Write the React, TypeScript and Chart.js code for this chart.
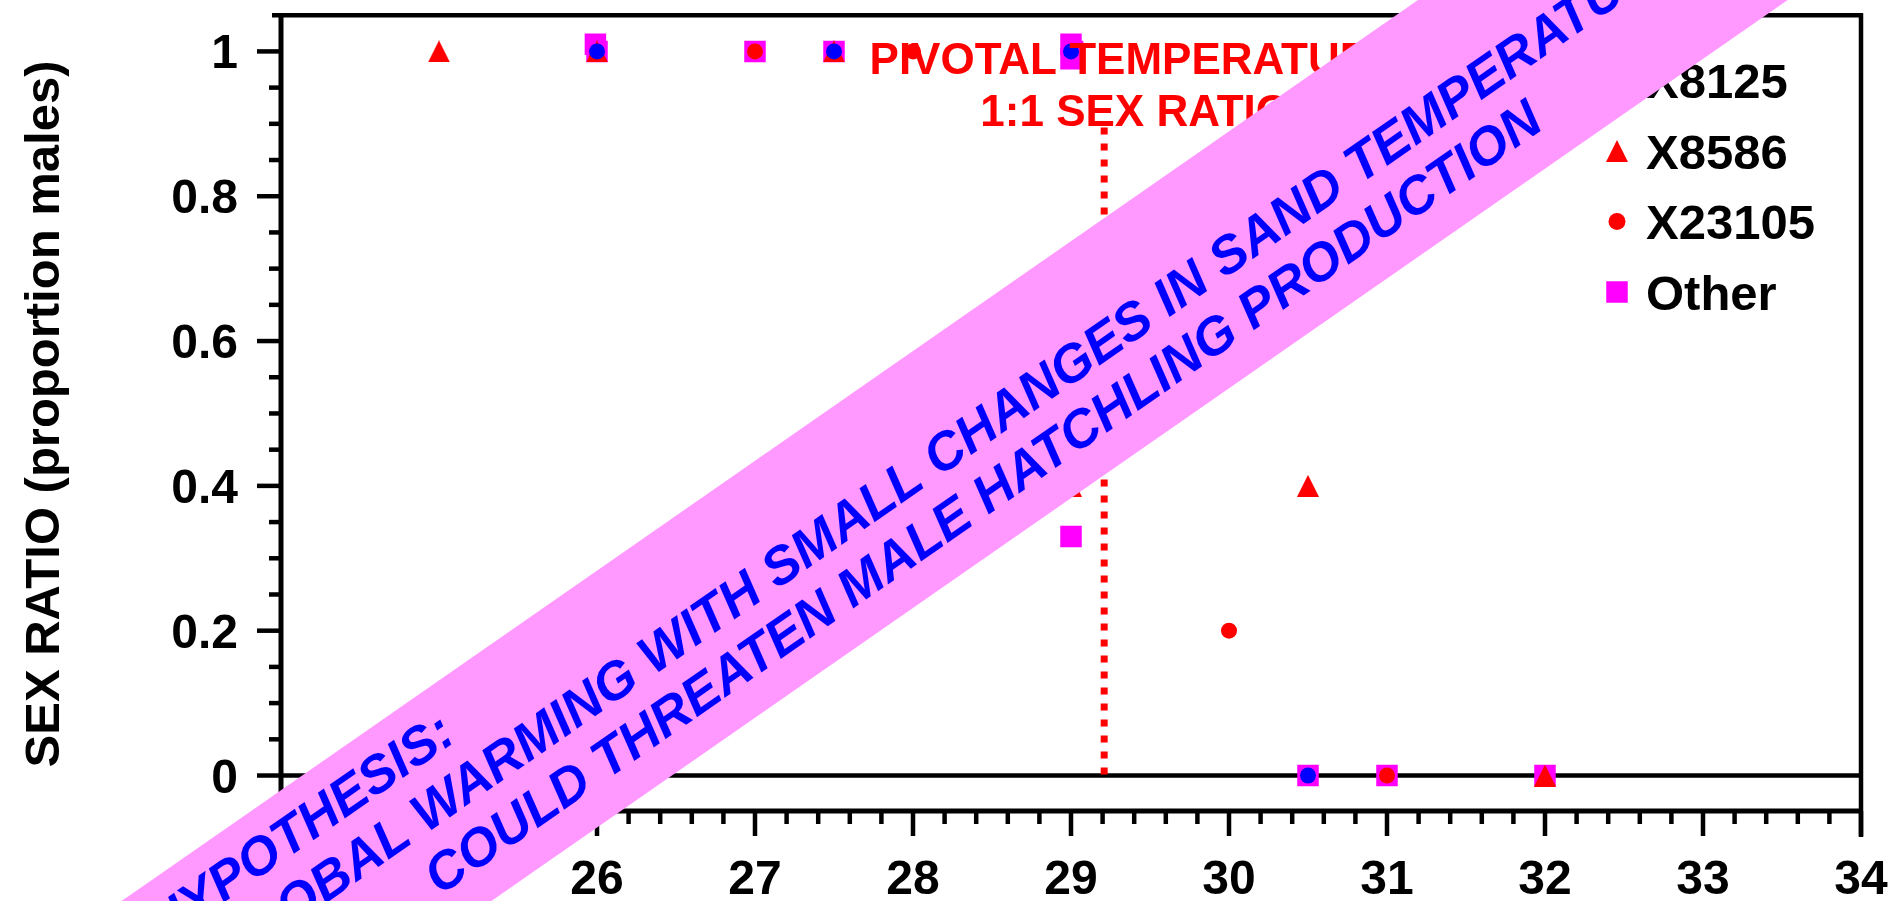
import React, { useEffect, useRef } from 'react';
import { Chart, registerables } from 'chart.js';

Chart.register(...registerables);

// ---------------- data ----------------
const seriesNames = ['X8125', 'X8586', 'X23105', 'Other'];

const x8125Temp = [26, 27.5, 29, 30.5];
const x8125Ratio = [1, 1, 1, 0];

const x8586Temp = [25, 26, 27.5, 29, 30.5, 32];
const x8586Ratio = [1, 1, 1, 0.4, 0.4, 0];

const x23105Temp = [27, 28, 30, 31];
const x23105Ratio = [1, 1, 0.2, 0];

const otherTemp = [25.99, 26, 27, 27.5, 29, 29.01, 29, 29, 30.5, 31, 32];
const otherRatio = [1.01, 1, 1, 1, 1.01, 1, 0.99, 0.33, 0, 0, 0];

const pivotalTemp = [29.21, 29.21];
const pivotalRatio = [0.895, 0];

const xTickValues = [24, 25, 26, 27, 28, 29, 30, 31, 32, 33, 34];
const xTickLabels = ['24', '25', '26', '27', '28', '29', '30', '31', '32', '33', '34'];
const yTickValues = [0, 0.2, 0.4, 0.6, 0.8, 1];
const yTickLabels = ['0', '0.2', '0.4', '0.6', '0.8', '1'];

const yAxisTitle = 'SEX RATIO (proportion males)';
const pivotalText = ['PIVOTAL TEMPERATURE', '1:1 SEX RATIO'];
const hypothesisText = [
  'HYPOTHESIS:',
  'GLOBAL WARMING WITH SMALL CHANGES IN SAND TEMPERATURE',
  'COULD THREATEN MALE HATCHLING PRODUCTION',
];

// ---------------- styling ----------------
const FONT = "'Liberation Sans', Arial, Helvetica, sans-serif";
const RED = '#ff0000';
const BLUE = '#0000ff';
const MAGENTA = '#ff00ff';
const PINK = '#ff99ff';

const toPoints = (xs: number[], ys: number[]) => xs.map((x, i) => ({ x, y: ys[i] }));

function makeTriangle(w: number, h: number, color: string) {
  const c = document.createElement('canvas');
  c.width = w;
  c.height = h;
  const g = c.getContext('2d')!;
  g.fillStyle = color;
  g.beginPath();
  g.moveTo(w / 2, 0);
  g.lineTo(w, h);
  g.lineTo(0, h);
  g.closePath();
  g.fill();
  return c;
}

function drawLegendMarker(ctx: CanvasRenderingContext2D, kind: string, cx: number, cy: number, color: string) {
  ctx.fillStyle = color;
  ctx.beginPath();
  if (kind === 'circle') {
    ctx.arc(cx, cy, 8.5, 0, Math.PI * 2);
  } else if (kind === 'triangle') {
    ctx.moveTo(cx, cy - 11);
    ctx.lineTo(cx + 11, cy + 11);
    ctx.lineTo(cx - 11, cy + 11);
    ctx.closePath();
  } else {
    ctx.rect(cx - 10.75, cy - 10.75, 21.5, 21.5);
  }
  ctx.fill();
}

const axesPlugin = {
  id: 'customAxes',
  beforeDatasetsDraw(chart: any) {
    const { ctx } = chart;
    const xs = chart.scales.x;
    const ys = chart.scales.y;
    const left = xs.getPixelForValue(xTickValues[0]);
    const right = xs.getPixelForValue(xTickValues[xTickValues.length - 1]);
    const top = chart.chartArea.top;
    const bottom = chart.chartArea.bottom;
    const line = (x1: number, y1: number, x2: number, y2: number) => {
      ctx.beginPath();
      ctx.moveTo(x1, y1);
      ctx.lineTo(x2, y2);
      ctx.stroke();
    };
    ctx.save();
    ctx.strokeStyle = '#000';
    ctx.lineCap = 'butt';

    // top frame and right frame
    ctx.lineWidth = 4.5;
    line(left - 9, top, right + 2, top);
    line(right, top - 2, right, bottom + 26);

    // y axis line
    ctx.lineWidth = 5;
    line(left, top - 2, left, bottom);

    // zero line
    ctx.lineWidth = 4.5;
    const y0 = ys.getPixelForValue(0);
    line(left, y0, right, y0);

    // bottom x axis line
    ctx.lineWidth = 5;
    line(left, bottom, right + 2, bottom);

    // y ticks (major every 0.2, minor every 0.05)
    ctx.lineWidth = 4.5;
    for (let i = 0; i <= 20; i++) {
      const v = i * 0.05;
      const py = ys.getPixelForValue(v);
      const major = i % 4 === 0;
      line(left - (major ? 24 : 12), py, left, py);
    }
    // x ticks (major every 1, minor every 0.2)
    for (let i = 0; i <= 50; i++) {
      const v = xTickValues[0] + i * 0.2;
      const px = xs.getPixelForValue(v);
      const major = i % 5 === 0;
      line(px, bottom, px, bottom + (major ? 25 : 13));
    }

    // tick labels
    ctx.fillStyle = '#000';
    ctx.font = `bold 48px ${FONT}`;
    ctx.textBaseline = 'alphabetic';
    ctx.textAlign = 'right';
    yTickValues.forEach((v, i) => {
      const py = ys.getPixelForValue(v);
      ctx.fillText(yTickLabels[i], left - 43, py + 17);
    });
    ctx.textAlign = 'center';
    xTickValues.forEach((v, i) => {
      const px = xs.getPixelForValue(v);
      ctx.fillText(xTickLabels[i], px, 894);
    });

    // y title
    ctx.save();
    ctx.translate(45, 414);
    ctx.rotate(-Math.PI / 2);
    ctx.font = `bold 49px ${FONT}`;
    ctx.textAlign = 'center';
    ctx.textBaseline = 'middle';
    ctx.fillText(yAxisTitle, 0, 0);
    ctx.restore();

    ctx.restore();
  },
  afterDatasetsDraw(chart: any) {
    const { ctx } = chart;
    const xs = chart.scales.x;
    ctx.save();
    // pivotal temperature label
    ctx.fillStyle = RED;
    ctx.font = `bold 44px ${FONT}`;
    ctx.textAlign = 'center';
    ctx.textBaseline = 'alphabetic';
    const cx = xs.getPixelForValue(pivotalTemp[0]) + 31;
    ctx.fillText(pivotalText[0], cx, 74);
    ctx.fillText(pivotalText[1], cx, 126);

    // legend
    const kinds = ['circle', 'triangle', 'circle', 'rect'];
    const colors = [BLUE, RED, RED, MAGENTA];
    ctx.font = `bold 49px ${FONT}`;
    ctx.textAlign = 'left';
    seriesNames.forEach((name, i) => {
      const cy = 80.5 + i * 70.5;
      drawLegendMarker(ctx, kinds[i], 1617, cy, colors[i]);
      ctx.fillStyle = '#000';
      ctx.fillText(name, 1646, cy + 17.5);
    });
    ctx.restore();
  },
  afterDraw(chart: any) {
    const { ctx } = chart;
    ctx.save();
    ctx.translate(900, 488.5);
    ctx.rotate((-34.8 * Math.PI) / 180);
    ctx.fillStyle = PINK;
    ctx.fillRect(-2600, -105.5, 5200, 211);
    ctx.fillStyle = BLUE;
    ctx.font = `italic bold 53px ${FONT}`;
    ctx.textBaseline = 'alphabetic';
    ctx.textAlign = 'left';
    ctx.fillText(hypothesisText[0], -866, -46);
    ctx.textAlign = 'center';
    ctx.fillText(hypothesisText[1], 63, 13);
    ctx.fillText(hypothesisText[2], 63, 72);
    ctx.restore();
  },
};

export default function App() {
  const ref = useRef<HTMLCanvasElement | null>(null);

  useEffect(() => {
    if (!ref.current) return;
    const tri = makeTriangle(22, 22, RED);
    const chart = new Chart(ref.current, {
      type: 'scatter',
      data: {
        datasets: [
          {
            label: seriesNames[0],
            data: toPoints(x8125Temp, x8125Ratio),
            pointStyle: 'circle',
            pointRadius: 8,
            backgroundColor: BLUE,
            borderWidth: 0,
          },
          {
            label: seriesNames[2],
            data: toPoints(x23105Temp, x23105Ratio),
            pointStyle: 'circle',
            pointRadius: 8,
            backgroundColor: RED,
            borderWidth: 0,
          },
          {
            label: seriesNames[1],
            data: toPoints(x8586Temp, x8586Ratio),
            pointStyle: tri,
            pointRadius: 11,
            backgroundColor: RED,
            borderWidth: 0,
          },
          {
            label: seriesNames[3],
            data: toPoints(otherTemp, otherRatio),
            pointStyle: 'rect',
            pointRadius: 15.2,
            backgroundColor: MAGENTA,
            borderWidth: 0,
          },
          {
            type: 'line',
            label: 'pivotal',
            data: toPoints(pivotalTemp, pivotalRatio),
            borderColor: RED,
            borderWidth: 7,
            borderDash: [7, 9],
            pointRadius: 0,
            showLine: true,
            fill: false,
          } as any,
        ],
      },
      options: {
        animation: false,
        responsive: false,
        devicePixelRatio: 1,
        events: [],
        layout: { padding: { left: 281, right: 34, top: 10, bottom: 90 } },
        scales: {
          x: { type: 'linear', min: 24, max: 34, display: false },
          y: { type: 'linear', min: -0.049, max: 1.05, display: false },
        },
        plugins: {
          legend: { display: false },
          tooltip: { enabled: false },
        },
      },
      plugins: [axesPlugin],
    });
    return () => chart.destroy();
  }, []);

  return (
    <div style={{ position: 'absolute', left: 0, top: 0, width: 1895, height: 901, background: '#fff' }}>
      <canvas ref={ref} width={1895} height={901} style={{ display: 'block', width: '1895px', height: '901px' }} />
    </div>
  );
}
